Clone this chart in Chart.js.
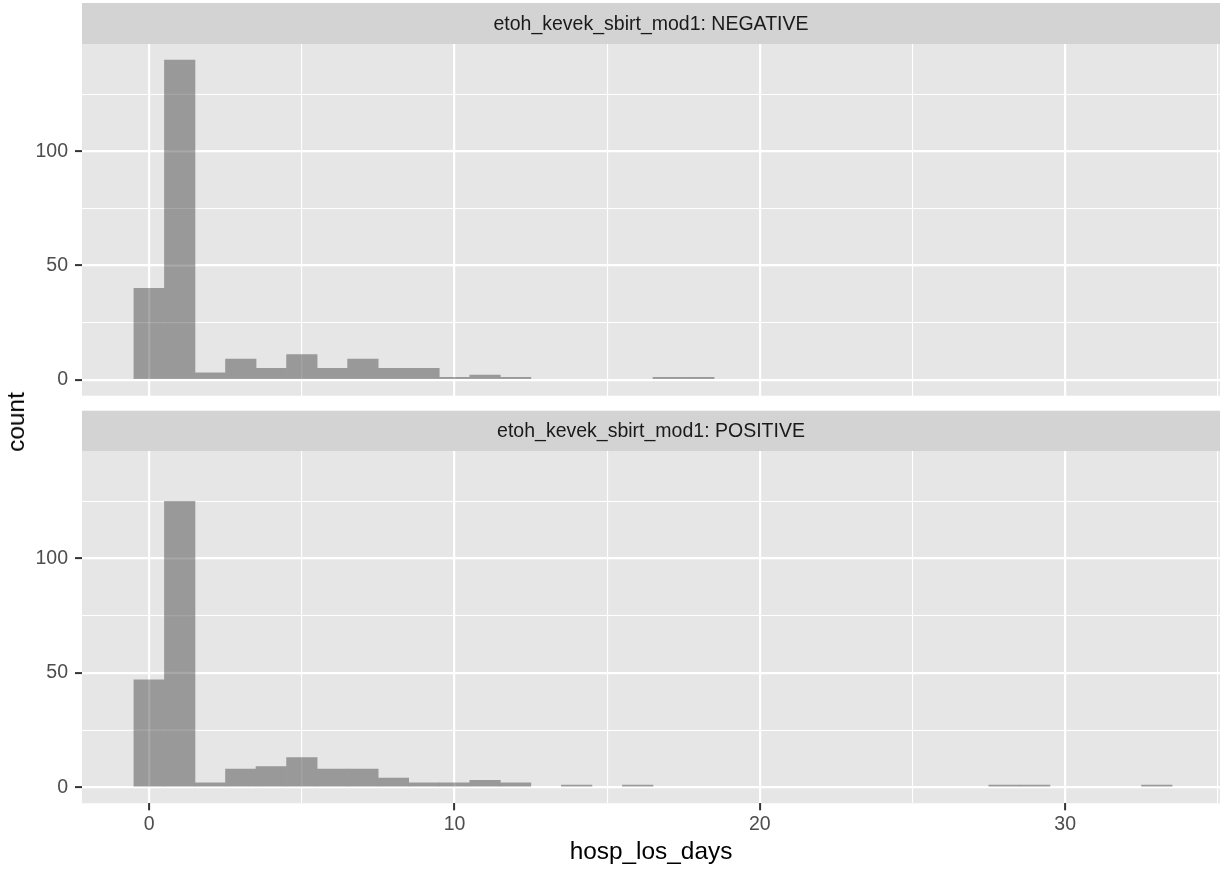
<!DOCTYPE html>
<html>
<head>
<meta charset="utf-8">
<script src="https://cdn.jsdelivr.net/npm/chart.js@4/dist/chart.umd.min.js"></script>
<style>
  html, body { margin: 0; padding: 0; background: #fff; overflow: hidden; }
  canvas { position: absolute; left: 0; }
  #top { top: 0; }
  #bottom { top: 400px; }
  #ytitle {
    position: absolute; left: 16px; top: 422px;
    transform: translate(-50%, -50%) rotate(-90deg);
    font: 24.4px "Liberation Sans", Arial, sans-serif; color: #000; white-space: nowrap;
  }
</style>
</head>
<body>
<canvas id="top" width="1221" height="400"></canvas>
<canvas id="bottom" width="1221" height="471"></canvas>
<div id="ytitle">count</div>
<script>
// histogram bins (hosp_los_days, binwidth 1)
const binCenters = [0, 1, 2, 3, 4, 5, 6, 7, 8, 9, 10, 11, 12, 13, 14, 15, 16, 17, 18, 19, 20, 21, 22, 23, 24, 25, 26, 27, 28, 29, 30, 31, 32, 33];
const negativeCounts = [40, 140, 3, 9, 5, 11, 5, 9, 5, 5, 1, 2, 1, 0, 0, 0, 0, 1, 1, 0, 0, 0, 0, 0, 0, 0, 0, 0, 0, 0, 0, 0, 0, 0];
const positiveCounts = [47, 125, 2, 8, 9, 13, 8, 8, 4, 2, 2, 3, 2, 0, 1, 0, 1, 0, 0, 0, 0, 0, 0, 0, 0, 0, 0, 0, 1, 1, 0, 0, 0, 1];
const panelLabels = ['etoh_kevek_sbirt_mod1: NEGATIVE', 'etoh_kevek_sbirt_mod1: POSITIVE'];
const xTicks = [0, 5, 10, 15, 20, 25, 30, 35];
const xMajor = [0, 10, 20, 30];
const yTicks = [0, 25, 50, 75, 100, 125];
const yMajor = [0, 50, 100];

const FONT = '"Liberation Sans", Arial, sans-serif';
const PANEL_BG = '#E6E6E6';
const STRIP_BG = '#D3D3D3';

function panelPlugin(label, stripTop) {
    return {
        id: 'panel',
        beforeDraw(chart) {
            const { ctx, chartArea: a } = chart;
            ctx.save();
            ctx.fillStyle = PANEL_BG;
            ctx.fillRect(a.left, a.top, a.right - a.left, a.bottom - a.top);
            ctx.fillStyle = STRIP_BG;
            ctx.fillRect(a.left, stripTop, a.right - a.left, a.top - stripTop);
            ctx.fillStyle = '#1A1A1A';
            ctx.font = '19.5px ' + FONT;
            ctx.textAlign = 'center';
            ctx.textBaseline = 'middle';
            ctx.fillText(label, (a.left + a.right) / 2, (stripTop + a.top) / 2 + 1);
            ctx.restore();
        },
        // faint grid showing through the semi-transparent bars
        afterDatasetsDraw(chart) {
            const { ctx, chartArea: a, scales } = chart;
            ctx.save();
            ctx.strokeStyle = 'rgba(255,255,255,0.15)';
            scales.x.ticks.forEach((t) => {
                const px = scales.x.getPixelForValue(t.value);
                ctx.lineWidth = xMajor.includes(t.value) ? 2.2 : 1.1;
                ctx.beginPath();
                ctx.moveTo(px, a.top);
                ctx.lineTo(px, a.bottom);
                ctx.stroke();
            });
            scales.y.ticks.forEach((t) => {
                const py = scales.y.getPixelForValue(t.value);
                ctx.lineWidth = yMajor.includes(t.value) ? 2.2 : 1.1;
                ctx.beginPath();
                ctx.moveTo(a.left, py);
                ctx.lineTo(a.right, py);
                ctx.stroke();
            });
            ctx.restore();
        },
    };
}

function makeTicks(values) {
    return (scale) => { scale.ticks = values.map((v) => ({ value: v })); };
}

function createPanel(canvasId, counts, label, stripTop, padTop, showX) {
    new Chart(document.getElementById(canvasId), {
        type: 'bar',
        data: {
            datasets: [
                {
                    data: binCenters.map((x, i) => ({ x, y: counts[i] || null })),
                    backgroundColor: '#999999',
                    borderWidth: 0,
                    barPercentage: 1,
                    categoryPercentage: 1,
                },
            ],
        },
        options: {
            responsive: false,
            animation: false,
            layout: { padding: { top: padTop, right: 1, left: 0, bottom: 0 } },
            plugins: { legend: { display: false }, tooltip: { enabled: false } },
            scales: {
                x: {
                    type: 'linear',
                    min: -2.2,
                    max: 35.07,
                    offset: false,
                    grid: {
                        offset: false,
                        color: '#FFFFFF',
                        lineWidth: (c) => (xMajor.includes(c.tick.value) ? 2.2 : 1.1),
                        tickColor: (c) => (xMajor.includes(c.tick.value) ? '#333333' : 'rgba(0,0,0,0)'),
                        tickWidth: 2,
                        tickLength: 7,
                        drawTicks: showX,
                    },
                    border: { display: false },
                    afterBuildTicks: makeTicks(xTicks),
                    afterFit: (s) => {
                        s.height = showX ? 67.7 : 4.3;
                        s.paddingLeft = 0;
                        s.paddingRight = 0;
                    },
                    ticks: {
                        display: showX,
                        autoSkip: false,
                        maxRotation: 0,
                        padding: 3,
                        color: '#4D4D4D',
                        font: { family: FONT, size: 19.5 },
                        callback: (v) => (xMajor.includes(v) ? String(v) : ''),
                    },
                    title: {
                        display: showX,
                        text: 'hosp_los_days',
                        color: '#000000',
                        font: { family: FONT, size: 24.4, lineHeight: 1.2 },
                        padding: { top: 0, bottom: 4 },
                    },
                },
                y: {
                    min: -7,
                    max: 147,
                    grid: {
                        color: '#FFFFFF',
                        lineWidth: (c) => (yMajor.includes(c.tick.value) ? 2.2 : 1.1),
                        tickColor: (c) => (yMajor.includes(c.tick.value) ? '#333333' : 'rgba(0,0,0,0)'),
                        tickWidth: 2,
                        tickLength: 7,
                    },
                    border: { display: false },
                    afterBuildTicks: makeTicks(yTicks),
                    afterFit: (s) => {
                        s.width = 82;
                        s.paddingTop = 0;
                        s.paddingBottom = 0;
                    },
                    ticks: {
                        padding: 7,
                        color: '#4D4D4D',
                        font: { family: FONT, size: 19.5 },
                        callback: (v) => (yMajor.includes(v) ? String(v) : ''),
                    },
                },
            },
        },
        plugins: [panelPlugin(label, stripTop)],
    });
}

createPanel('top', negativeCounts, panelLabels[0], 3, 44, false);
createPanel('bottom', positiveCounts, panelLabels[1], 10.7, 51, true);
</script>
</body>
</html>
